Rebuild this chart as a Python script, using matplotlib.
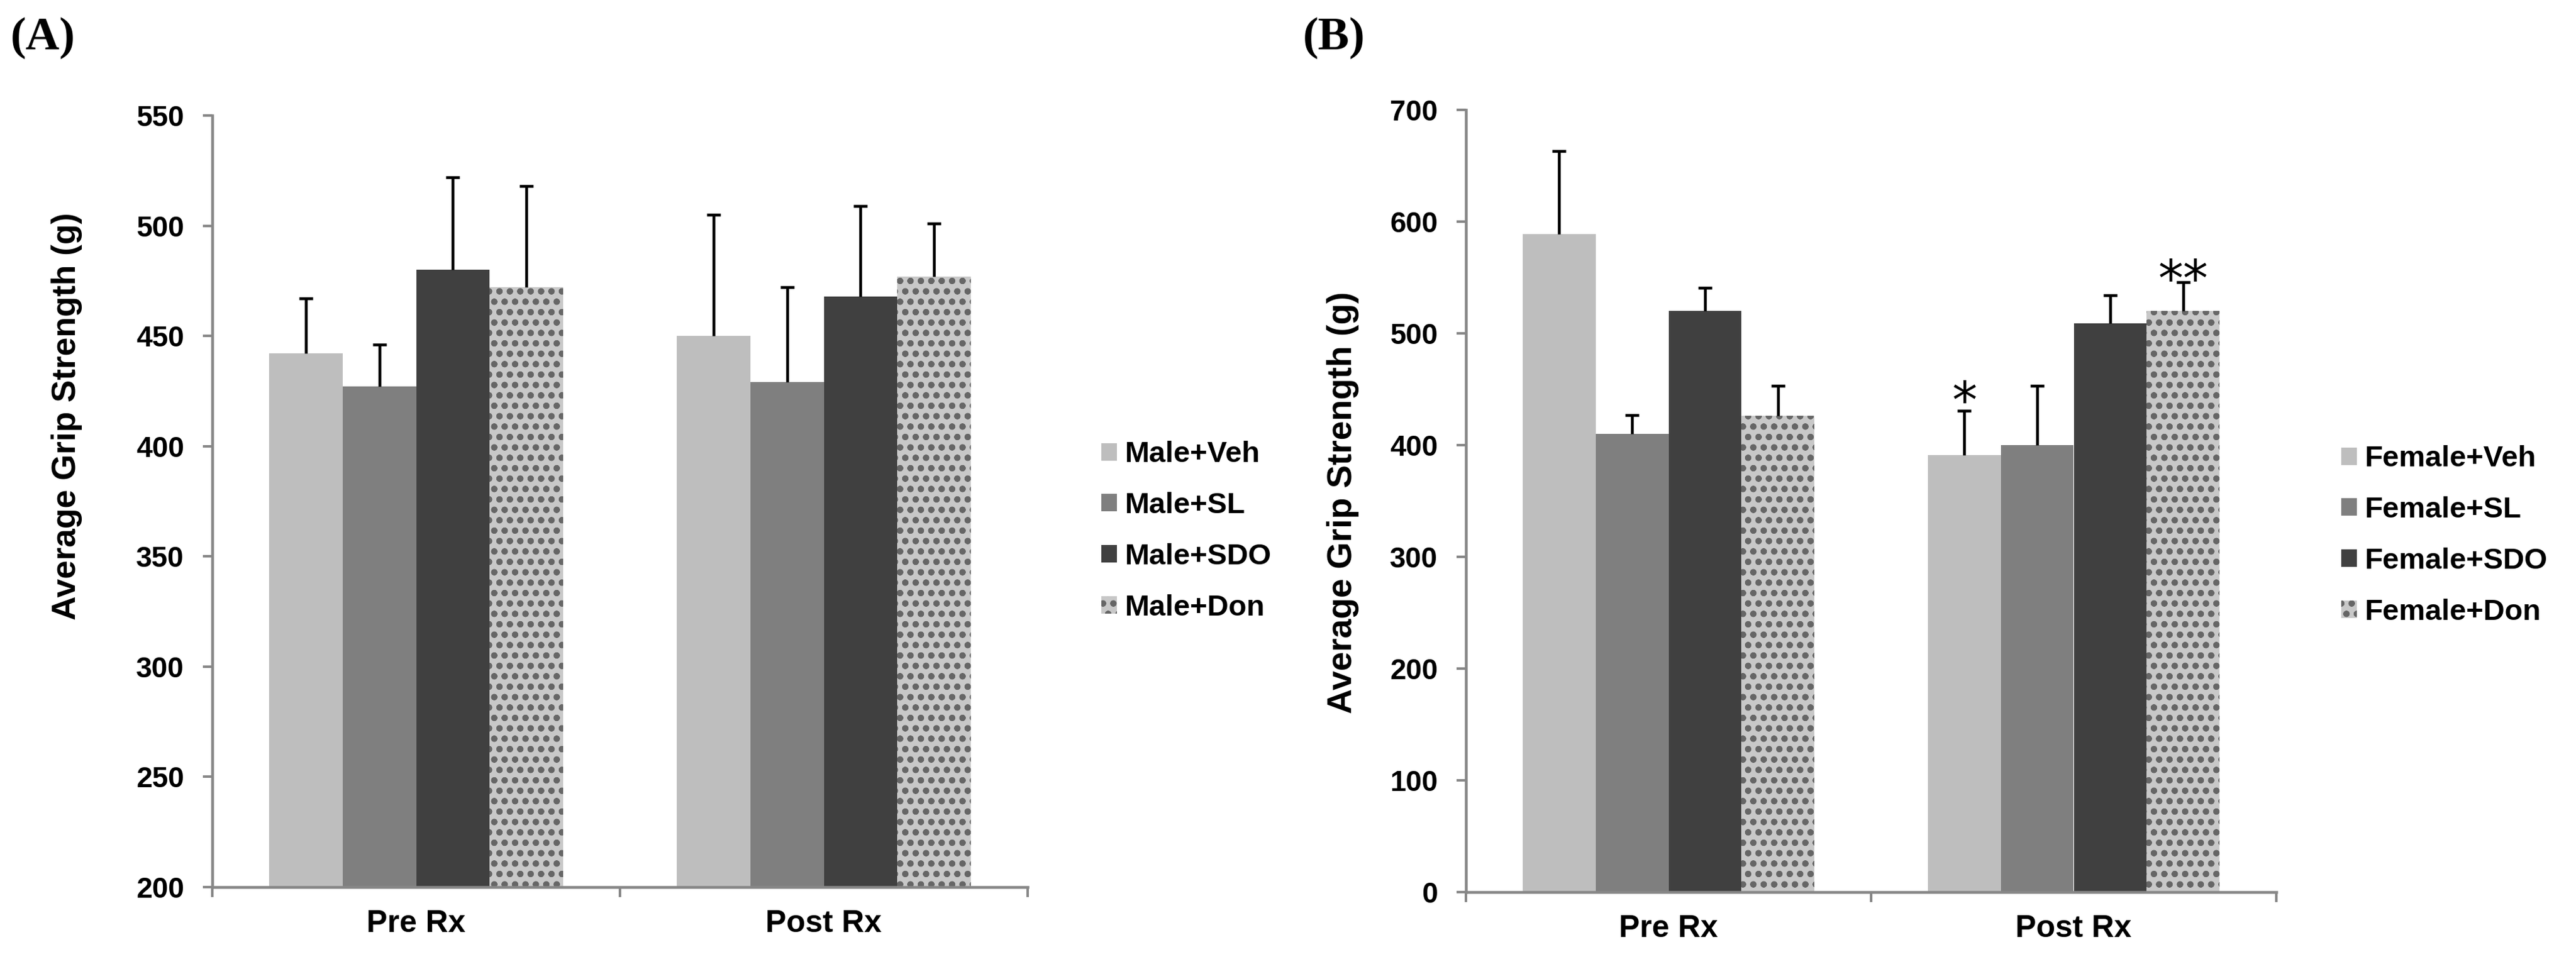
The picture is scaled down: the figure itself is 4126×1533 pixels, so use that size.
import matplotlib
matplotlib.use("Agg")
import matplotlib.pyplot as plt
import numpy as np

# ---------------- data ----------------
categories = ["Pre Rx", "Post Rx"]

male_labels = ["Male+Veh", "Male+SL", "Male+SDO", "Male+Don"]
male_means = {
    "Pre Rx":  [442, 427, 480, 472],
    "Post Rx": [450, 429, 468, 477],
}
male_err = {
    "Pre Rx":  [25, 19, 42, 46],
    "Post Rx": [55, 43, 41, 24],
}

female_labels = ["Female+Veh", "Female+SL", "Female+SDO", "Female+Don"]
female_means = {
    "Pre Rx":  [589, 410, 520, 426],
    "Post Rx": [391, 400, 509, 520],
}
female_err = {
    "Pre Rx":  [74, 17, 21, 27],
    "Post Rx": [40, 53, 25, 26],
}

# significance marks: (category, series index, text, value at star centre)
female_sig = [("Post Rx", 0, "*", 450), ("Post Rx", 3, "**", 559)]

ylim_a = (200, 550)
yticks_a = [200, 250, 300, 350, 400, 450, 500, 550]
ylim_b = (0, 700)
yticks_b = [0, 100, 200, 300, 400, 500, 600, 700]

# ---------------- style ----------------
colors = ["#bebebe", "#7f7f7f", "#404040", "#c8c8c8"]
hatches = [None, None, None, "o."]
hatch_col = "#666666"
axis_col = "#878787"
SANS = "Liberation Sans"
plt.rcParams["font.family"] = [SANS, "DejaVu Sans"]
plt.rcParams["font.weight"] = "bold"
plt.rcParams["hatch.linewidth"] = 2.5

W, H = 4126, 1533
DPI = 100
fig = plt.figure(figsize=(W / DPI, H / DPI), dpi=DPI)

def px(v):  # pixels -> points
    return v * 72.0 / DPI

bar_w = 0.18
offsets = [-1.5 * bar_w, -0.5 * bar_w, 0.5 * bar_w, 1.5 * bar_w]


def panel(rect, labels, means, errs, ylim, yticks, ylab_xy, ylab_size,
          leg_anchor, sig=None):
    ax = fig.add_axes(rect)
    xs = np.arange(len(categories))
    handles = []
    for i, lab in enumerate(labels):
        vals = [means[c][i] for c in categories]
        ers = [errs[c][i] for c in categories]
        b = ax.bar(xs + offsets[i], vals, width=bar_w, bottom=0,
                   color=colors[i], hatch=hatches[i],
                   edgecolor=hatch_col if hatches[i] else colors[i],
                   linewidth=0, label=lab, zorder=2)
        handles.append(b)
        eb = ax.errorbar(xs + offsets[i], vals,
                         yerr=[np.zeros(len(vals)), ers], fmt="none",
                         ecolor="black", elinewidth=px(4.5), capsize=px(11),
                         capthick=px(4.5), zorder=3)
        # only the upper cap is drawn (Excel "plus" error bars)
        caps = eb[1]
        if len(caps) == 2:
            caps[0].set_visible(False)
    ax.set_ylim(*ylim)
    ax.set_yticks(yticks)
    ax.set_xlim(-0.5, len(categories) - 0.5)
    ax.set_xticks(xs)
    ax.set_xticklabels(categories, fontsize=36, fontweight="bold")
    ax.set_xticks(np.arange(len(categories) + 1) - 0.5, minor=True)
    ax.tick_params(axis="x", which="major", length=0, pad=px(36))
    ax.tick_params(axis="x", which="minor", length=px(16), width=px(4),
                   color=axis_col, direction="out")
    ax.tick_params(axis="y", which="major", length=px(15), width=px(4),
                   color=axis_col, direction="out", pad=px(30),
                   labelsize=33)
    for t in ax.get_yticklabels():
        t.set_fontweight("bold")
    for s in ["top", "right"]:
        ax.spines[s].set_visible(False)
    for s in ["left", "bottom"]:
        ax.spines[s].set_color(axis_col)
        ax.spines[s].set_linewidth(px(4.5))
    ax.set_ylabel("Average Grip Strength (g)", fontsize=ylab_size,
                  fontweight="bold", va="center")
    ax.yaxis.set_label_coords(*ylab_xy)
    ax.set_facecolor("none")

    if sig:
        for cat, idx, txt, yv in sig:
            xc = categories.index(cat) + offsets[idx]
            fs = 58
            ax.annotate(txt, xy=(xc, yv), xytext=(0, -0.56 * fs),
                        textcoords="offset points", ha="center",
                        va="baseline", fontsize=fs, fontweight="normal",
                        family="DejaVu Sans", zorder=4)

    fs = 34
    fpx = fs * DPI / 72
    fig.legend(handles=handles, labels=labels, loc="center left",
               bbox_to_anchor=leg_anchor, frameon=False,
               prop={"family": SANS, "weight": "bold", "size": fs},
               handlelength=25 / fpx, handleheight=25 / fpx,
               handletextpad=13 / fpx, labelspacing=0.80, borderpad=0,
               borderaxespad=0)
    return ax


# panel A
a_l, a_r, a_t, a_b = 340, 1646, 185, 1421
panel([a_l / W, 1 - a_b / H, (a_r - a_l) / W, (a_b - a_t) / H],
      male_labels, male_means, male_err, ylim_a, yticks_a,
      ((107 - a_l) / (a_r - a_l), (a_b - 667) / (a_b - a_t)), 38.5,
      (1764 / W, 1 - 851 / H))

# panel B
b_l, b_r, b_t, b_b = 2348, 3646, 176, 1429
panel([b_l / W, 1 - b_b / H, (b_r - b_l) / W, (b_b - b_t) / H],
      female_labels, female_means, female_err, ylim_b, yticks_b,
      ((2151 - b_l) / (b_r - b_l), (b_b - 805) / (b_b - b_t)), 40,
      (3750 / W, 1 - 858 / H), sig=female_sig)

fig.text(17 / W, 1 - 79 / H, "(A)", family="Liberation Serif",
         fontweight="bold", fontsize=54, va="baseline", ha="left")
fig.text(2087 / W, 1 - 79 / H, "(B)", family="Liberation Serif",
         fontweight="bold", fontsize=54, va="baseline", ha="left")

fig.savefig("out.png", dpi=DPI, facecolor="white")
